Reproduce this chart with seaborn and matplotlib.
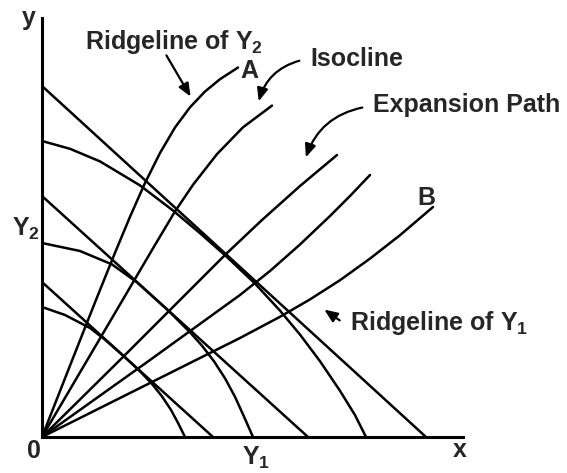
# Ridgelines, isocline and expansion path diagram
import numpy as np
import pandas as pd
import matplotlib
matplotlib.use("Agg")
import matplotlib.pyplot as plt
import seaborn as sns

# rays from the origin
ridge2_x = [0, 2.8, 5.3, 7.3, 8.8, 10.3, 11.8, 13.3, 14.8, 16.3, 17.8, 19.6]
ridge2_y = [0, 7.14, 13.46, 18.42, 22.02, 25.4, 28.4, 30.95, 32.97, 34.55, 35.78, 36.95]
isocline_x = [0, 3.8, 7.3, 11.0, 13.3, 15.1, 17.5, 20.1, 23.0]
isocline_y = [0, 6.46, 12.4, 18.7, 22.56, 25.22, 28.29, 30.97, 33.14]
expansion_x = [0, 8.2, 12.7, 18.4, 22.0, 25.8, 29.5]
expansion_y = [0, 8.1, 12.6, 18.3, 21.7, 25.1, 28.2]
ray4_x = [0, 10.8, 19.8, 22.8, 25.8, 28.8, 30.8, 32.8]
ray4_y = [0, 7.7, 14.2, 16.6, 19.25, 22.1, 24.1, 26.2]
ridge1_x = [0, 10.8, 19.8, 23.8, 26.8, 29.8, 32.8, 35.8, 39.1]
ridge1_y = [0, 5.4, 9.9, 12.02, 13.76, 15.68, 17.84, 20.18, 23.0]

# straight lines
line1_x = [0, 38.4]
line1_y = [35.1, 0]
line2_x = [0, 26.6]
line2_y = [24.1, 0]
line3_x = [0, 17.1]
line3_y = [15.5, 0]

# concave curves
curve1_x = [0, 2.8, 5.8, 9.8, 13.1, 15.8, 18.4, 21.3, 23.8, 25.8, 27.8, 29.8, 31.3, 32.4]
curve1_y = [29.6, 28.82, 27.56, 25.16, 22.65, 20.38, 18.09, 15.34, 12.64, 10.24, 7.58, 4.62, 2.19, 0]
curve2_x = [0, 3.8, 7.0, 9.5, 12.6, 14.8, 16.0, 17.2, 18.3, 19.3, 20.2, 21.1]
curve2_y = [19.4, 18.6, 17.26, 15.46, 12.67, 10.47, 9.13, 7.57, 5.87, 4.02, 2.04, 0]
curve3_x = [0, 2.3, 4.8, 6.3, 8.2, 9.8, 11.0, 12.0, 12.9, 13.6, 14.3]
curve3_y = [13.0, 12.2, 10.9, 9.73, 8.06, 6.57, 5.31, 4.06, 2.71, 1.41, 0]

sns.set_theme(style="white")
plt.rcParams["font.family"] = ["Liberation Sans", "DejaVu Sans"]
plt.rcParams["font.weight"] = "bold"
plt.rcParams["mathtext.fontset"] = "custom"
plt.rcParams["mathtext.rm"] = "Liberation Sans:bold"
plt.rcParams["mathtext.it"] = "Liberation Sans:bold"
plt.rcParams["mathtext.bf"] = "Liberation Sans:bold"

fig = plt.figure(figsize=(5.67, 4.73), dpi=100)
ax = fig.add_axes([42 / 567, 36 / 473, 421 / 567, 419 / 473])

curves = [
    (ridge2_x, ridge2_y), (isocline_x, isocline_y), (expansion_x, expansion_y),
    (ray4_x, ray4_y), (ridge1_x, ridge1_y),
    (line1_x, line1_y), (line2_x, line2_y), (line3_x, line3_y),
    (curve1_x, curve1_y), (curve2_x, curve2_y), (curve3_x, curve3_y),
]
for cx, cy in curves:
    sns.lineplot(x=cx, y=cy, ax=ax, sort=False, estimator=None,
                 color="black", linewidth=1.8, solid_joinstyle="round")

ax.set_xlim(0, 42.1)
ax.set_ylim(0, 41.9)
ax.set_xticks([])
ax.set_yticks([])
ax.set_xlabel("")
ax.set_ylabel("")
for s in ["top", "right"]:
    ax.spines[s].set_visible(False)
for s in ["left", "bottom"]:
    ax.spines[s].set_linewidth(2.2)
    ax.spines[s].set_color("black")

fs = 18
ax.text(4.3, 38.8, "Ridgeline of Y$_2$", fontsize=fs, fontweight="bold")
ax.text(19.8, 35.9, "A", fontsize=fs, fontweight="bold")
ax.text(26.8, 37.1, "Isocline", fontsize=fs, fontweight="bold")
ax.text(33.1, 32.5, "Expansion Path", fontsize=fs, fontweight="bold")
ax.text(37.5, 23.2, "B", fontsize=fs, fontweight="bold")
ax.text(30.8, 10.7, "Ridgeline of Y$_1$", fontsize=fs, fontweight="bold")
ax.text(-2.0, 41.2, "y", fontsize=fs, fontweight="bold")
ax.text(-3.0, 20.1, "Y$_2$", fontsize=fs, fontweight="bold")
ax.text(-1.5, -2.1, "0", fontsize=fs, fontweight="bold")
ax.text(20.0, -2.8, "Y$_1$", fontsize=fs, fontweight="bold")
ax.text(41.1, -2.0, "x", fontsize=fs, fontweight="bold")

head = "-|>,head_length=0.6,head_width=0.25"
ax.annotate("", xy=(15.0, 33.8), xytext=(12.3, 38.4),
            arrowprops=dict(arrowstyle=head, color="black", lw=1.6, mutation_scale=13))
ax.annotate("", xy=(21.6, 33.3), xytext=(26.0, 37.7),
            arrowprops=dict(arrowstyle=head, color="black", lw=1.6, mutation_scale=13,
                            connectionstyle="arc3,rad=0.3"))
ax.annotate("", xy=(26.3, 27.7), xytext=(32.3, 33.0),
            arrowprops=dict(arrowstyle=head, color="black", lw=1.6, mutation_scale=13,
                            connectionstyle="arc3,rad=0.3"))
ax.annotate("", xy=(28.0, 12.9), xytext=(30.0, 11.5),
            arrowprops=dict(arrowstyle=head, color="black", lw=1.6, mutation_scale=13))

fig.savefig("out.png", dpi=100)
